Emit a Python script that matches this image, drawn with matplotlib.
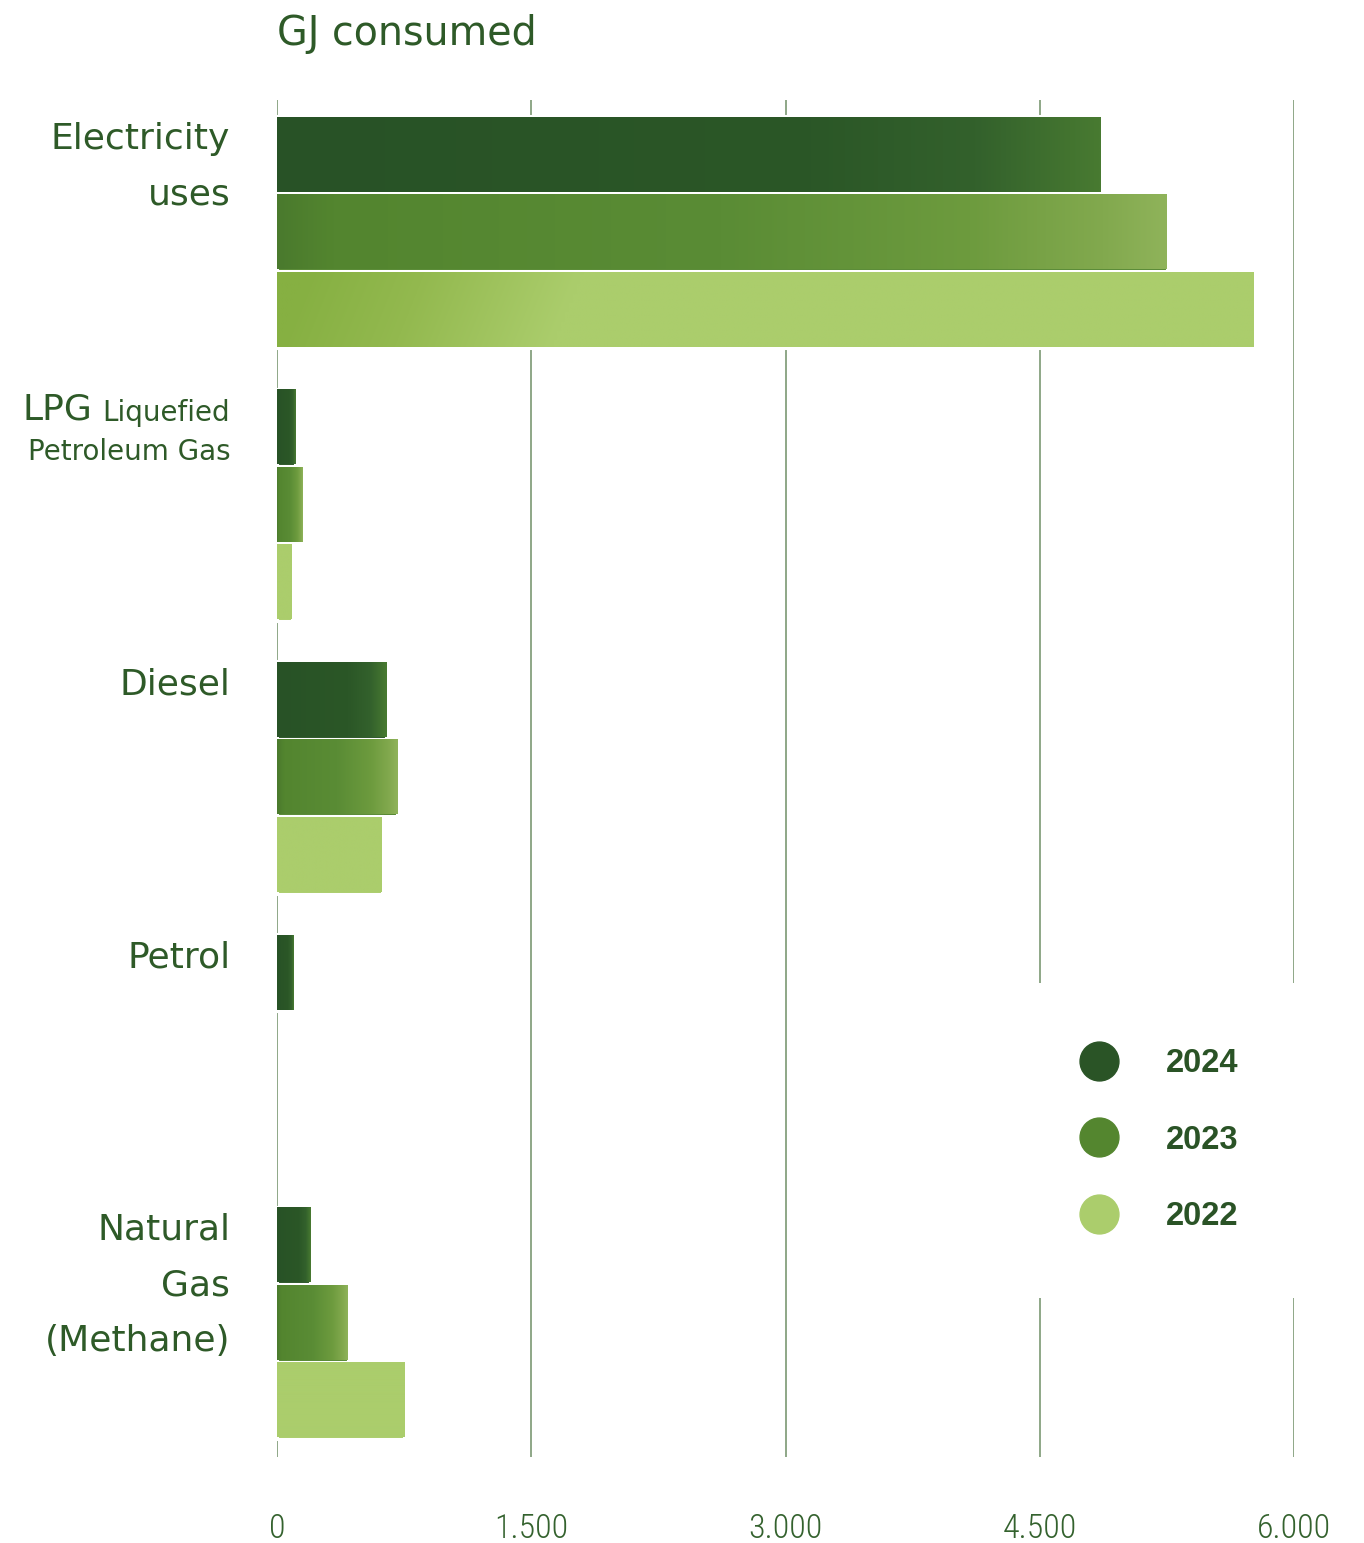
import matplotlib
matplotlib.use("Agg")
import matplotlib.pyplot as plt
import matplotlib.transforms as mtransforms
import numpy as np
from matplotlib.colors import to_rgb
from matplotlib.lines import Line2D

# GJ consumed per energy source
CATEGORIES = ["Electricity uses", "LPG Liquefied Petroleum Gas", "Diesel", "Petrol", "Natural Gas (Methane)"]
YEARS = ["2024", "2023", "2022"]
GJ_2024 = [4860, 108, 645, 100, 197]
GJ_2023 = [5250, 153, 710, 0, 417]
GJ_2022 = [5760, 88, 618, 0, 751]
X_TICKS = [0, 1500, 3000, 4500, 6000]
X_TICK_LABELS = ["0", "1.500", "3.000", "4.500", "6.000"]

TEXT = "#2e5a28"
TICK_TEXT = "#34622e"
GRID = "#708f67"
BASE = {"2024": "#2a5426", "2023": "#54862f", "2022": "#abcd6c"}
# horizontal colour ramps (fraction of bar length, colour)
RAMPS = {
    "2024": [(0.0, "#285226"), (0.65, "#2b5727"), (0.85, "#33612c"), (1.0, "#487a31")],
    "2023": [(0.0, "#4a7a2d"), (0.06, "#53852f"), (0.5, "#5a8c35"), (0.78, "#6d9b3e"),
             (0.93, "#82a94e"), (1.0, "#8fb35a")],
    "2022": [(0.0, "#abcd6c"), (1.0, "#abcd6c")],
}

BAR_H = 0.284


def ramp_image(stops, n=256, rows=1, slant=0.0):
    pos = np.array([s[0] for s in stops])
    cols = np.array([to_rgb(s[1]) for s in stops])
    xs = np.linspace(0, 1, n)
    ys = np.linspace(0, 1, rows)
    t = np.clip(xs[None, :] - slant * ys[:, None], 0, 1)
    img = np.stack([np.interp(t, pos, cols[:, k]) for k in range(3)], axis=-1)
    return img


fig = plt.figure(figsize=(13.64, 15.43), dpi=100)
ax = fig.add_axes([277 / 1364, 1 - 1457 / 1543, 1017 / 1364, 1357 / 1543])

y = np.arange(len(CATEGORIES))
series = {"2024": GJ_2024, "2023": GJ_2023, "2022": GJ_2022}
for k, year in enumerate(YEARS):
    vals = series[year]
    yc = y + (k - 1) * BAR_H
    ax.barh(yc, vals, height=BAR_H, color=BASE[year], edgecolor="white",
            linewidth=[2.2 if v > 0 else 0 for v in vals], zorder=2)
    for i, v in enumerate(vals):
        if v <= 0:
            continue
        inset = 0.006
        if year == "2022" and i == 0:
            stops = [(0.0, "#86b042"), (0.12, "#93b94f"), (0.28, "#abcd6c"), (1.0, "#abcd6c")]
            img = ramp_image(stops, rows=40, slant=0.03)
        else:
            img = ramp_image(RAMPS[year])
        ax.imshow(img, extent=(0, v, yc[i] + BAR_H / 2 - inset, yc[i] - BAR_H / 2 + inset),
                  origin="lower", aspect="auto", interpolation="bilinear", zorder=2.5)

ax.set_xlim(0, 6000)
ax.set_ylim(4.492, -0.484)
ax.set_xticks(X_TICKS, X_TICK_LABELS)
ax.set_yticks([])
ax.grid(axis="x", color=GRID, linewidth=1.1)
ax.set_axisbelow(True)
for s in ax.spines.values():
    s.set_visible(False)
ax.tick_params(axis="x", length=0, pad=40, labelsize=24.5, labelcolor=TICK_TEXT)
for lab in ax.get_xticklabels():
    lab.set_family(["Roboto Condensed", "Liberation Sans Narrow", "DejaVu Sans"])
    lab.set_fontweight("light")

# category labels, right aligned left of the axis, starting at the group top
trans = mtransforms.blended_transform_factory(ax.transAxes, ax.transData)
LABEL_X = -0.046
FIRST_BASE = 0.122
LINE_STEP = 0.203
label_lines = {0: ["Electricity", "uses"], 2: ["Diesel"], 3: ["Petrol"],
               4: ["Natural", "Gas", "(Methane)"]}
for i, lines in label_lines.items():
    top = i - 1.5 * BAR_H
    for j, line in enumerate(lines):
        ax.text(LABEL_X, top + FIRST_BASE + j * LINE_STEP, line, transform=trans,
                ha="right", va="baseline", fontsize=26, color=TEXT)

top = 1 - 1.5 * BAR_H
liq = ax.text(LABEL_X, top + 0.118, "Liquefied", transform=trans, ha="right",
              va="baseline", fontsize=20, color=TEXT)
ax.annotate("LPG", xy=(0, 0), xycoords=liq, xytext=(-7, 0), textcoords="offset points",
            ha="right", va="bottom", fontsize=26, color=TEXT)
ax.text(LABEL_X, top + 0.118 + 0.143, "Petroleum Gas", transform=trans, ha="right",
        va="baseline", fontsize=20, color=TEXT)

fig.text(277 / 1364, 1 - 45 / 1543, "GJ consumed", ha="left", va="baseline",
         fontsize=28.5, color=TEXT)

handles = [Line2D([], [], marker="o", linestyle="none", markersize=28,
                  markerfacecolor=BASE[yr], markeredgecolor=BASE[yr]) for yr in YEARS]
fs = 23.5
pad = 2.0
fs_px = fs * 100 / 72
leg = ax.legend(handles, YEARS, loc="upper left",
                bbox_to_anchor=((1079 - pad * fs_px) / 1364, 1 - (1048 - pad * fs_px) / 1543),
                bbox_transform=fig.transFigure, frameon=True, fancybox=False,
                facecolor="white", edgecolor="none", framealpha=1, borderpad=pad,
                borderaxespad=0, handlelength=1.2, handletextpad=1.46, labelspacing=1.4,
                prop={"family": ["Liberation Sans", "DejaVu Sans"], "weight": "bold", "size": fs})
for t in leg.get_texts():
    t.set_color("#2a5326")

fig.savefig("out.png", dpi=100)
